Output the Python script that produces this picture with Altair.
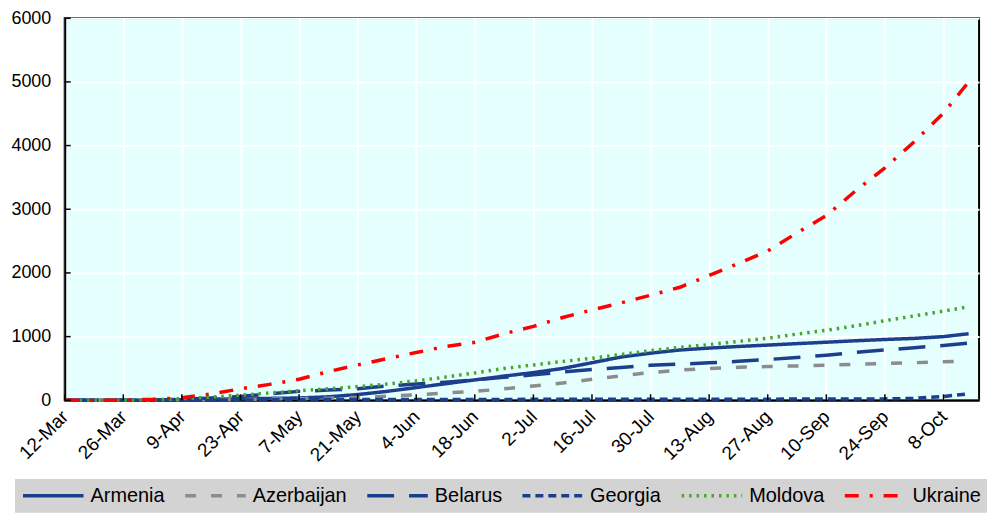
import altair as alt
import pandas as pd

# ---------------- data ----------------
dates = [
    "2020-03-12", "2020-03-19", "2020-03-26", "2020-04-02", "2020-04-09", "2020-04-16",
    "2020-04-23", "2020-04-30", "2020-05-07", "2020-05-14", "2020-05-21", "2020-05-28",
    "2020-06-04", "2020-06-11", "2020-06-18", "2020-06-25", "2020-07-02", "2020-07-09",
    "2020-07-16", "2020-07-23", "2020-07-30", "2020-08-06", "2020-08-13", "2020-08-20",
    "2020-08-27", "2020-09-03", "2020-09-10", "2020-09-17", "2020-09-24", "2020-10-01",
    "2020-10-08", "2020-10-14",
]
armenia = [0, 0, 1, 3, 8, 17, 24, 30, 36, 55, 90, 140, 200, 260, 320, 380, 435, 500,
           590, 680, 740, 790, 820, 845, 867, 890, 912, 935, 955, 972, 1000, 1045]
azerbaijan = [0, 0, 1, 3, 7, 10, 15, 20, 25, 32, 45, 63, 85, 115, 140, 180, 225, 270,
              330, 385, 435, 474, 500, 518, 530, 540, 550, 565, 578, 590, 605, 612]
belarus = [0, 0, 0, 2, 15, 35, 60, 100, 140, 160, 180, 225, 255, 285, 320, 360, 400, 445,
           485, 515, 550, 568, 588, 612, 640, 672, 708, 752, 790, 826, 862, 898]
georgia = [0, 0, 0, 0, 1, 3, 4, 7, 10, 12, 12, 12, 13, 14, 14, 14, 15, 15,
           15, 15, 16, 17, 17, 17, 18, 19, 20, 21, 22, 30, 60, 100]
moldova = [0, 0, 1, 5, 25, 50, 80, 115, 150, 180, 215, 255, 305, 365, 430, 500, 555, 610,
           660, 720, 780, 830, 875, 925, 975, 1040, 1100, 1170, 1250, 1325, 1400, 1470]
ukraine = [0, 0, 3, 15, 40, 100, 180, 250, 330, 450, 555, 655, 750, 845, 910, 1045, 1160, 1300,
           1420, 1530, 1650, 1775, 1960, 2150, 2345, 2630, 2900, 3290, 3650, 4060, 4510, 5000]

countries = ["Armenia", "Azerbaijan", "Belarus", "Georgia", "Moldova", "Ukraine"]
series = [armenia, azerbaijan, belarus, georgia, moldova, ukraine]
colors = ["#1B3F8C", "#8C8C8C", "#1B3F8C", "#1B3F8C", "#4AA52A", "#FF0000"]
dashes = [[1, 0], [11, 15], [27, 15], [8, 5], [2.5, 5], [14, 11, 3, 11]]

tick_md = [(3, 12), (3, 26), (4, 9), (4, 23), (5, 7), (5, 21), (6, 4), (6, 18), (7, 2),
           (7, 16), (7, 30), (8, 13), (8, 27), (9, 10), (9, 24), (10, 8)]
y_ticks = [0, 1000, 2000, 3000, 4000, 5000, 6000]

# ---------------- tables ----------------
rows = []
for name, vals in zip(countries, series):
    for d, v in zip(dates, vals):
        rows.append({"date": d + "T00:00:00", "country": name, "deaths": v})
df = pd.DataFrame(rows)

xt_df = pd.DataFrame({"date": ["2020-%02d-%02dT00:00:00" % (m, d) for m, d in tick_md]})
yt_df = pd.DataFrame({"deaths": y_ticks})

FONT = "Liberation Sans, Arial, sans-serif"
W, H = 919, 384

x_scale = alt.Scale(domain=[alt.DateTime(year=2020, month=3, date=12),
                            alt.DateTime(year=2020, month=10, date=16, hours=12)])
y_scale = alt.Scale(domain=[0, 6000], nice=False)
tick_dt = [alt.DateTime(year=2020, month=m, date=d) for m, d in tick_md]

x_axis = alt.Axis(values=tick_dt, format="%-d-%b", labelAngle=-45,
                  labelAlign="right", labelBaseline="middle", labelPadding=13,
                  labelFont=FONT, labelFontSize=19, labelColor="black",
                  ticks=False, domainColor="black", domainWidth=2,
                  gridColor="white", gridWidth=2, labelOverlap=False, title=None)
y_axis = alt.Axis(values=y_ticks, format="d", labelFont=FONT, labelFontSize=18,
                  labelColor="black", labelPadding=14, ticks=False,
                  domainColor="black", domainWidth=2,
                  gridColor="white", gridWidth=2, title=None)

legend = alt.Legend(
    title=None, orient="none", legendX=-50, legendY=463, direction="horizontal",
    columns=6, symbolType="stroke", symbolSize=3700, symbolStrokeWidth=3.5,
    clipHeight=22, labelFont=FONT, labelFontSize=20, labelColor="black",
    labelOffset=5, columnPadding=18, padding=6, fillColor="#D3D3D3", labelLimit=300,
)

lines = alt.Chart(df).mark_line(strokeWidth=3.5).encode(
    x=alt.X("date:T", scale=x_scale, axis=x_axis, title=None),
    y=alt.Y("deaths:Q", scale=y_scale, axis=y_axis, title=None),
    color=alt.Color("country:N", scale=alt.Scale(domain=countries, range=colors), legend=legend),
    strokeDash=alt.StrokeDash("country:N", scale=alt.Scale(domain=countries, range=dashes),
                              legend=legend),
    order=alt.Order("date:T"),
)

xticks = alt.Chart(xt_df).mark_rule(color="black", strokeWidth=1.5).encode(
    x=alt.X("date:T", scale=x_scale, axis=x_axis, title=None),
    y=alt.value(H), y2=alt.value(H - 6),
)
yticks = alt.Chart(yt_df).mark_rule(color="black", strokeWidth=1.5).encode(
    y=alt.Y("deaths:Q", scale=y_scale, axis=y_axis, title=None),
    x=alt.value(0), x2=alt.value(6),
)

chart = alt.layer(lines, xticks, yticks).properties(
    width=W, height=H,
    padding={"left": 2, "top": 0, "right": 5, "bottom": 0},
).configure_view(
    fill="#E5FFFF", stroke="black", strokeWidth=2,
)

chart.save("out.html", embed_options={"renderer": "svg", "actions": False})
